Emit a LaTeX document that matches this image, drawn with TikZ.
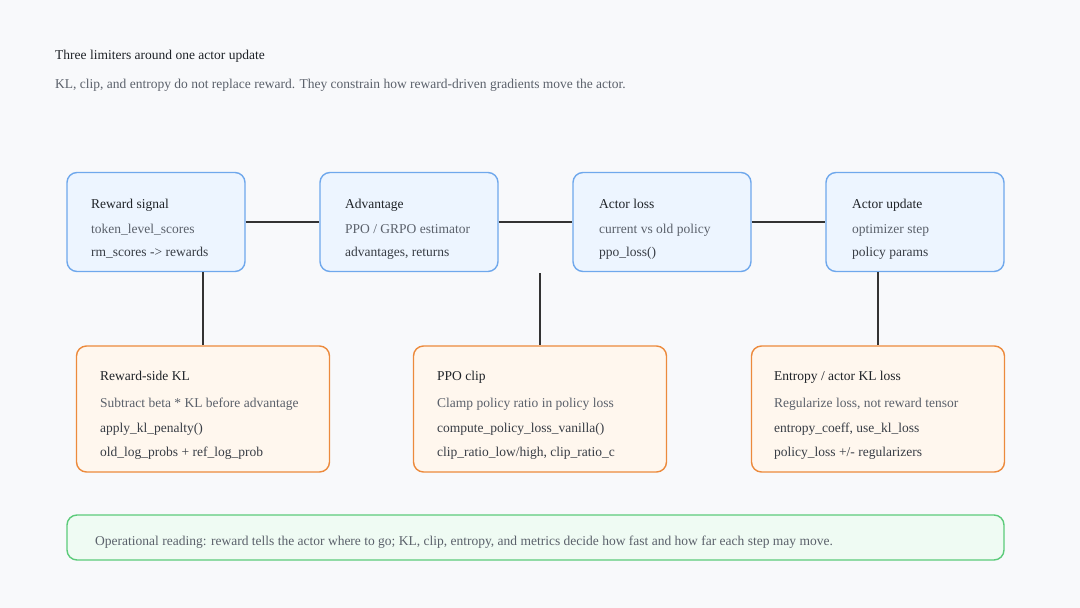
\documentclass[tikz,border=0pt]{standalone}
\usepackage{fontspec}
\setmainfont{Liberation Serif}
\usetikzlibrary{positioning}
\definecolor{bgcol}{HTML}{F8F9FB}
\definecolor{bluedraw}{HTML}{6FA8EC}
\definecolor{bluefill}{HTML}{EDF5FF}
\definecolor{orangedraw}{HTML}{EC8A3C}
\definecolor{orangefill}{HTML}{FFF7EE}
\definecolor{greendraw}{HTML}{5CCB7A}
\definecolor{greenfill}{HTML}{EFFBF3}
\definecolor{headcol}{HTML}{1F2328}
\definecolor{desccol}{HTML}{5B616B}
\definecolor{codecol}{HTML}{383D45}
\definecolor{linkcol}{HTML}{333333}
\tikzset{
  card/.style={rounded corners=10pt, line width=1.4pt, inner sep=0pt},
  topcard/.style={card, draw=bluedraw, fill=bluefill, minimum width=178pt, minimum height=99pt},
  limcard/.style={card, draw=orangedraw, fill=orangefill, minimum width=253pt, minimum height=126pt},
  notecard/.style={card, draw=greendraw, fill=greenfill, minimum width=937pt, minimum height=45pt},
  txt/.style={anchor=base west, inner sep=0pt, font=\fontsize{13.5}{16}\selectfont},
  head/.style={txt, text=headcol},
  desc/.style={txt, text=desccol},
  code/.style={txt, text=codecol},
  link/.style={draw=linkcol, line width=1.7pt}
}
\begin{document}
\begin{tikzpicture}[x=1pt,y=-1pt]
\fill[bgcol] (0,0) rectangle (1080,608);
\useasboundingbox (0,0) rectangle (1080,608);

\node[head] (title) at (55,59) {Three limiters around one actor update};
\node[desc] (subtitle) at (55,88) {KL, clip, and entropy do not replace reward. They constrain how reward-driven gradients move the actor.};

% top row
\node[topcard] (reward) at (156,222) {};
\node[topcard] (adv) at (409,222) {};
\node[topcard] (loss) at (662,222) {};
\node[topcard] (update) at (915,222) {};

% limiters
\node[limcard] (rkl) at (203,409) {};
\node[limcard] (clip) at (540,409) {};
\node[limcard] (ent) at (878,409) {};

% note
\node[notecard] (note) at (535.5,537.5) {};

% connectors
\draw[link] (reward) -- (adv);
\draw[link] (adv) -- (loss);
\draw[link] (loss) -- (update);
\draw[link] (reward.south -| rkl.north) -- (rkl.north);
\coordinate (clipfree) at (540,273);
\draw[link] (clipfree) -- (clip.north);
\draw[link] (update.south -| ent.north) -- (ent.north);

% box texts
\node[head] (reward-t) at (91,208) {Reward signal};
\node[desc] (reward-a) at (91,233) {token\_level\_scores};
\node[code] (reward-b) at (91,256) {rm\_scores -> rewards};

\node[head] (adv-t) at (345,208) {Advantage};
\node[desc] (adv-a) at (345,233) {PPO / GRPO estimator};
\node[code] (adv-b) at (345,256) {advantages, returns};

\node[head] (loss-t) at (599,208) {Actor loss};
\node[desc] (loss-a) at (599,233) {current vs old policy};
\node[code] (loss-b) at (599,256) {ppo\_loss()};

\node[head] (update-t) at (852,208) {Actor update};
\node[desc] (update-a) at (852,233) {optimizer step};
\node[code] (update-b) at (852,256) {policy params};

\node[head] (rkl-t) at (100,380) {Reward-side KL};
\node[desc] (rkl-a) at (100,407) {Subtract beta * KL before advantage};
\node[code] (rkl-b) at (100,432) {apply\_kl\_penalty()};
\node[code] (rkl-c) at (100,456) {old\_log\_probs + ref\_log\_prob};

\node[head] (clip-t) at (437,380) {PPO clip};
\node[desc] (clip-a) at (437,407) {Clamp policy ratio in policy loss};
\node[code] (clip-b) at (437,432) {compute\_policy\_loss\_vanilla()};
\node[code] (clip-c) at (437,456) {clip\_ratio\_low/high, clip\_ratio\_c};

\node[head] (ent-t) at (774,380) {Entropy / actor KL loss};
\node[desc] (ent-a) at (774,407) {Regularize loss, not reward tensor};
\node[code] (ent-b) at (774,432) {entropy\_coeff, use\_kl\_loss};
\node[code] (ent-c) at (774,456) {policy\_loss +/- regularizers};

\node[desc] (note-t) at (95,545) {Operational reading: reward tells the actor where to go; KL, clip, entropy, and metrics decide how fast and how far each step may move.};
\end{tikzpicture}
\end{document}
